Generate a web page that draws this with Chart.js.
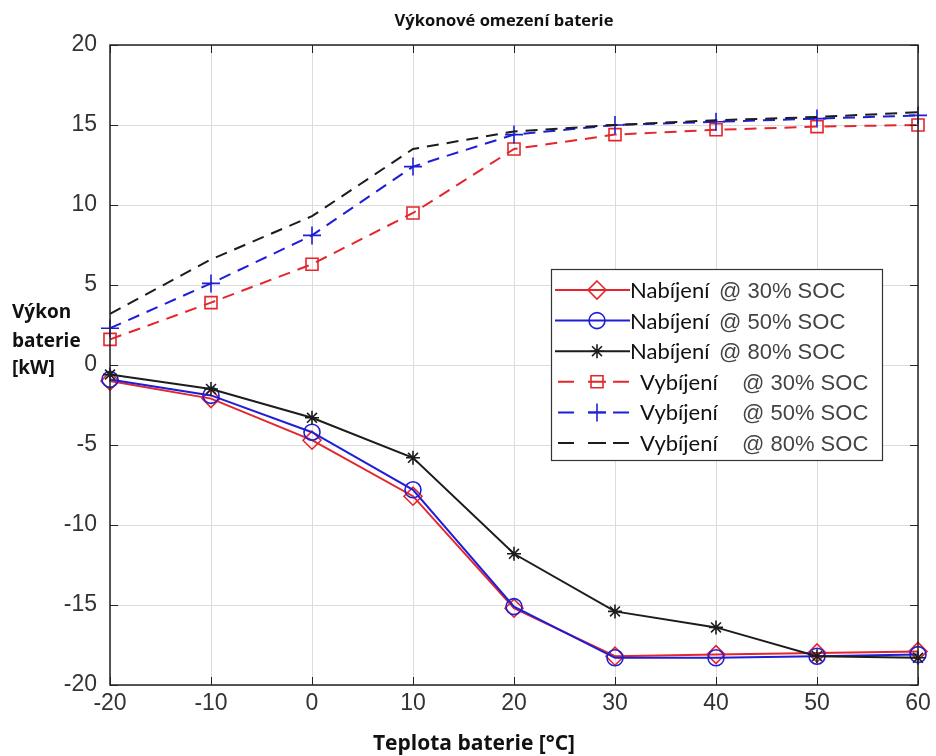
<!DOCTYPE html>
<html lang="cs">
<head>
<meta charset="utf-8">
<title>Výkonové omezení baterie</title>
<script src="https://cdn.jsdelivr.net/npm/chart.js@4.4.1/dist/chart.umd.min.js"></script>
<style>
  html, body { margin: 0; padding: 0; background: #fff; }
  #graf { display: block; }
</style>
</head>
<body>
<canvas id="graf" width="936" height="756"></canvas>
<script>
// Teplota baterie [°C]
const teploty = [-20, -10, 0, 10, 20, 30, 40, 50, 60];

// Nabíjení – výkon baterie [kW]
const nabijeni30 = [-1.0, -2.1, -4.7, -8.2, -15.2, -18.2, -18.1, -18.0, -17.9];
const nabijeni50 = [-0.9, -1.9, -4.2, -7.8, -15.1, -18.3, -18.3, -18.2, -18.1];
const nabijeni80 = [-0.6, -1.5, -3.3, -5.8, -11.8, -15.4, -16.4, -18.2, -18.3];

// Vybíjení – výkon baterie [kW]
const vybijeni30 = [1.6, 3.9, 6.3, 9.5, 13.5, 14.4, 14.7, 14.9, 15.0];
const vybijeni50 = [2.3, 5.1, 8.1, 12.4, 14.4, 15.0, 15.2, 15.4, 15.6];
const vybijeni80 = [3.2, 6.6, 9.3, 13.5, 14.6, 15.0, 15.3, 15.5, 15.8];

// Popisky os
const xTicks = [-20, -10, 0, 10, 20, 30, 40, 50, 60];
const yTicks = [-20, -15, -10, -5, 0, 5, 10, 15, 20];

const CERVENA = 'rgb(228, 38, 44)';
const MODRA = 'rgb(30, 30, 215)';
const CERNA = 'rgb(28, 28, 28)';
const CARKY = [12, 8];

// Definice řad – styl čar a značek
const rady = [
    { nazev: 'Nabíjení', soc: '@ 30% SOC', data: nabijeni30, barva: CERVENA, carky: [], znacka: 'rectRot', r: 9 },
    { nazev: 'Nabíjení', soc: '@ 50% SOC', data: nabijeni50, barva: MODRA, carky: [], znacka: 'circle', r: 8 },
    { nazev: 'Nabíjení', soc: '@ 80% SOC', data: nabijeni80, barva: CERNA, carky: [], znacka: 'star', r: 7 },
    { nazev: 'Vybíjení', soc: '@ 30% SOC', data: vybijeni30, barva: CERVENA, carky: CARKY, znacka: 'rect', r: 8.5 },
    { nazev: 'Vybíjení', soc: '@ 50% SOC', data: vybijeni50, barva: MODRA, carky: CARKY, znacka: 'cross', r: 9 },
    { nazev: 'Vybíjení', soc: '@ 80% SOC', data: vybijeni80, barva: CERNA, carky: CARKY, znacka: false, r: 0 }
];

/**
 * Nakreslí značku do legendy (stejné tvary jako Chart.js).
 */
function kresliZnacku(ctx, typ, x, y, r) {
    if (!typ) return;
    ctx.beginPath();
    if (typ === 'circle') {
        ctx.arc(x, y, r, 0, Math.PI * 2);
    } else if (typ === 'rectRot') {
        ctx.moveTo(x, y - r); ctx.lineTo(x + r, y); ctx.lineTo(x, y + r); ctx.lineTo(x - r, y); ctx.closePath();
    } else if (typ === 'rect') {
        const s = r * Math.SQRT1_2;
        ctx.rect(x - s, y - s, 2 * s, 2 * s);
    } else if (typ === 'cross') {
        ctx.moveTo(x - r, y); ctx.lineTo(x + r, y); ctx.moveTo(x, y - r); ctx.lineTo(x, y + r);
    } else if (typ === 'star') {
        const d = r * Math.SQRT1_2;
        ctx.moveTo(x - r, y); ctx.lineTo(x + r, y); ctx.moveTo(x, y - r); ctx.lineTo(x, y + r);
        ctx.moveTo(x - d, y - d); ctx.lineTo(x + d, y + d); ctx.moveTo(x - d, y + d); ctx.lineTo(x + d, y - d);
    }
    ctx.stroke();
}

// Rámeček grafu, vnitřní značky os, nadpisy a legenda
const doplnky = {
    id: 'doplnky',
    afterDatasetsDraw(chart) {
        const { ctx, chartArea: a, scales } = chart;
        ctx.save();
        ctx.strokeStyle = '#222';
        ctx.lineWidth = 1.5;
        ctx.strokeRect(a.left, a.top, a.right - a.left, a.bottom - a.top);
        ctx.beginPath();
        const delka = 8;
        xTicks.forEach(v => {
            const x = Math.round(scales.x.getPixelForValue(v)) + 0.5;
            ctx.moveTo(x, a.bottom); ctx.lineTo(x, a.bottom - delka);
            ctx.moveTo(x, a.top); ctx.lineTo(x, a.top + delka);
        });
        yTicks.forEach(v => {
            const y = Math.round(scales.y.getPixelForValue(v)) + 0.5;
            ctx.moveTo(a.left, y); ctx.lineTo(a.left + delka, y);
            ctx.moveTo(a.right, y); ctx.lineTo(a.right - delka, y);
        });
        ctx.lineWidth = 1;
        ctx.stroke();
        ctx.restore();
    },
    afterDraw(chart) {
        const ctx = chart.ctx;
        ctx.save();
        ctx.fillStyle = '#111';
        ctx.textBaseline = 'middle';

        // nadpis a popisky os
        ctx.font = 'bold 16.5px "Open Sans"';
        ctx.textAlign = 'center';
        ctx.fillText('Výkonové omezení baterie', 504, 21);
        ctx.font = 'bold 21px "Open Sans"';
        ctx.fillText('Teplota baterie [°C]', 474, 744);
        ctx.textAlign = 'left';
        ctx.font = 'bold 19px "Open Sans"';
        ctx.fillText('Výkon', 12, 313);
        ctx.fillText('baterie', 12, 342);
        ctx.fillText('[kW]', 12, 369);

        // legenda
        const box = { x: 551, y: 269, w: 331, h: 191 };
        ctx.fillStyle = '#fff';
        ctx.fillRect(box.x, box.y, box.w, box.h);
        ctx.strokeStyle = '#333';
        ctx.lineWidth = 1.2;
        ctx.strokeRect(box.x + 0.5, box.y + 0.5, box.w, box.h);

        rady.forEach((s, i) => {
            const y = 290 + i * 30.6;
            ctx.strokeStyle = s.barva;
            ctx.lineWidth = 2;
            ctx.beginPath();
            if (s.carky.length) {
                [[558, 574], [588, 606], [613, 629]].forEach(([a, b]) => { ctx.moveTo(a, y); ctx.lineTo(b, y); });
            } else {
                ctx.moveTo(555, y); ctx.lineTo(630, y);
            }
            ctx.stroke();
            ctx.lineWidth = 1.6;
            kresliZnacku(ctx, s.znacka, 597, y, s.r);

            const nabijeni = s.carky.length === 0;
            ctx.fillStyle = '#111';
            ctx.font = '22px Lato';
            ctx.fillText(s.nazev, nabijeni ? 630 : 640, y + 1);
            ctx.fillStyle = '#444';
            ctx.font = '22px "Liberation Sans"';
            ctx.fillText(s.soc, nabijeni ? 719 : 742, y + 2);
        });
        ctx.restore();
    }
};

const ctx = document.getElementById('graf').getContext('2d');
new Chart(ctx, {
    type: 'line',
    data: {
        datasets: rady.map((s, i) => ({
            label: s.nazev + ' ' + s.soc,
            data: teploty.map((t, j) => ({ x: t, y: s.data[j] })),
            borderColor: s.barva,
            borderWidth: 2,
            borderDash: s.carky,
            tension: 0,
            fill: false,
            clip: false,
            order: rady.length - i,
            pointStyle: s.znacka,
            pointRadius: s.r,
            pointHoverRadius: s.r,
            pointBorderColor: s.barva,
            pointBorderWidth: 1.6,
            pointBackgroundColor: 'rgba(0,0,0,0)'
        }))
    },
    options: {
        responsive: false,
        animation: false,
        layout: { padding: { top: 45, right: 18, bottom: 0, left: 0 } },
        plugins: {
            legend: { display: false },
            title: { display: false },
            tooltip: { enabled: false }
        },
        scales: {
            x: {
                type: 'linear',
                min: -20,
                max: 60,
                afterBuildTicks: scale => { scale.ticks = xTicks.map(v => ({ value: v })); },
                afterFit: scale => { scale.height = 71; },
                grid: { color: '#dcdcdc', lineWidth: 1, drawTicks: false },
                border: { display: false },
                ticks: {
                    padding: 5,
                    color: '#333',
                    font: { family: '"Liberation Sans", Arial', size: 23 }
                }
            },
            y: {
                type: 'linear',
                min: -20,
                max: 20,
                afterBuildTicks: scale => { scale.ticks = yTicks.map(v => ({ value: v })); },
                afterFit: scale => { scale.width = 110; },
                grid: { color: '#dcdcdc', lineWidth: 1, drawTicks: false },
                border: { display: false },
                ticks: {
                    padding: 13,
                    color: '#333',
                    font: { family: '"Liberation Sans", Arial', size: 23 }
                }
            }
        }
    },
    plugins: [doplnky]
});
</script>
</body>
</html>
